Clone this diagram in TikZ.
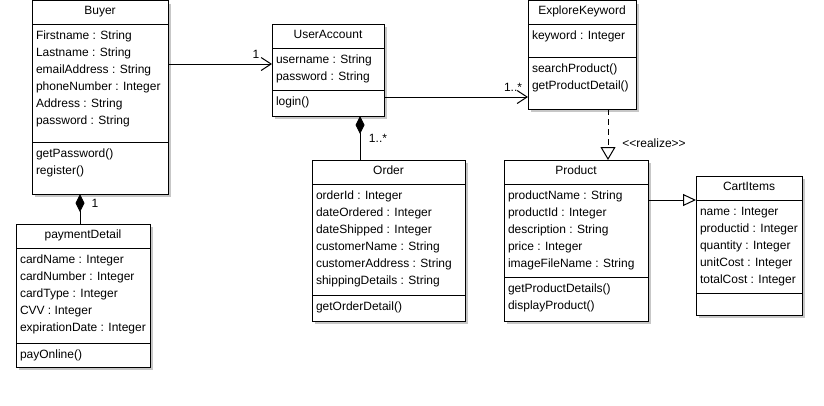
\documentclass[tikz,border=0pt]{standalone}
\usepackage{fontspec}
\setmainfont{Liberation Sans}
\usetikzlibrary{arrows.meta}

\tikzset{
  box/.style={draw=black, line width=1pt, fill=white, inner sep=0pt, outer sep=0pt},
  rule/.style={draw=black, line width=1pt},
  boxshadow/.style={draw=black!22, line width=2pt},
  umltext/.style={inner sep=0pt, outer sep=0pt, font=\fontsize{12pt}{14pt}\selectfont},
  title/.style={umltext, anchor=base},
  member/.style={umltext, anchor=base west},
  mult/.style={umltext, anchor=center},
  assoc/.style={line width=1pt, -{Straight Barb[length=10pt,width=13pt]}},
  compose/.style={line width=1pt, {Diamond[length=18pt,width=9pt]}-},
  realize/.style={line width=1pt, dash pattern=on 6pt off 4pt,
                  -{Triangle[open,length=13pt,width=15pt,fill=white]}},
  inherit/.style={line width=1pt, -{Triangle[open,length=13pt,width=12pt,fill=white]}},
}

% #1 name, #2 left, #3 top, #4 right, #5 bottom, #6 title rule, #7 member rule, #8 title
\newcommand\umlclass[8]{%
  \draw[boxshadow] (#4+1.5,#3+3) -- (#4+1.5,#5+1.5) -- (#2+3,#5+1.5);
  \node[box, anchor=north west, minimum width=#4-#2, minimum height=#5-#3] (#1) at (#2,#3) {};
  \draw[rule] (#2,#6) -- (#4,#6) (#2,#7) -- (#4,#7);
  \node[title] (#1-title) at ({(#2+#4)/2},#3+14) {#8};
}
% #1 name prefix, #2 class left edge, #3 compartment top, #4 list of entries
\newcommand\umlmembers[4]{%
  \foreach \txt [count=\i] in {#4}
    \node[member] (#1\i) at (#2+4,#3+15+17*\i-17) {\txt};
}

\begin{document}
\begin{tikzpicture}[x=1pt,y=-1pt]
\useasboundingbox (0,0) rectangle (824,405);

% Buyer
\umlclass{buyer}{32}{0.5}{168}{194}{24}{142}{Buyer}
\umlmembers{buyer-a}{32}{24}{Firstname : String, Lastname : String, emailAddress : String,
  phoneNumber : Integer, Address : String, password : String}
\umlmembers{buyer-m}{32}{142}{getPassword(), register()}

% UserAccount
\umlclass{account}{272}{24}{384}{116}{48}{90}{UserAccount}
\umlmembers{account-a}{272}{48}{username : String, password : String}
\umlmembers{account-m}{272}{90}{login()}

% ExploreKeyword
\umlclass{explore}{528}{0.5}{636}{109}{24}{57}{ExploreKeyword}
\umlmembers{explore-a}{528}{24}{keyword : Integer}
\umlmembers{explore-m}{528}{57}{searchProduct(), getProductDetail()}

% Order
\umlclass{order}{312}{160}{465}{321}{184}{295}{Order}
\umlmembers{order-a}{312}{184}{orderId : Integer, dateOrdered : Integer, dateShipped : Integer,
  customerName : String, customerAddress : String, shippingDetails : String}
\umlmembers{order-m}{312}{295}{getOrderDetail()}

% Product
\umlclass{product}{504}{160}{648}{321}{184}{277}{Product}
\umlmembers{product-a}{504}{184}{productName : String, productId : Integer, description : String,
  price : Integer, imageFileName : String}
\umlmembers{product-m}{504}{277}{getProductDetails(), displayProduct()}

% CartItems
\umlclass{cart}{696}{176}{802}{315}{200}{293}{CartItems}
\umlmembers{cart-a}{696}{200}{name : Integer, productid : Integer, quantity : Integer,
  unitCost : Integer, totalCost : Integer}

% paymentDetail
\umlclass{payment}{16}{224}{150}{367}{248}{343}{paymentDetail}
\umlmembers{payment-a}{16}{248}{cardName : Integer, cardNumber : Integer, cardType : Integer,
  CVV : Integer, expirationDate : Integer}
\umlmembers{payment-m}{16}{343}{payOnline()}

% connector levels
\coordinate (rowLogin)   at (0,64);
\coordinate (rowExplore) at (0,97);
\coordinate (rowCart)    at (0,200);
\coordinate (colPay)     at (80,0);
\coordinate (colOrder)   at (360,0);
\coordinate (colProduct) at (608,0);

% associations
\draw[assoc] (buyer.east |- rowLogin) -- (account.west |- rowLogin);
\node[mult] (multLogin) at (256,54) {1};
\draw[assoc] (account.east |- rowExplore) -- (explore.west |- rowExplore);
\node[mult] (multExplore) at (513,87) {1..*};

% compositions
\draw[compose] (account.south -| colOrder) -- (order.north -| colOrder);
\node[mult] (multOrder) at (378,138) {1..*};
\draw[compose] (buyer.south -| colPay) -- (payment.north -| colPay);
\node[mult] (multPay) at (95,203) {1};

% realization and generalization
\draw[realize] (explore.south -| colProduct) -- (product.north -| colProduct);
\node[mult] (realizeLabel) at (654,143) {<\kern0pt<realize>\kern0pt>};
\draw[inherit] (product.east |- rowCart) -- (cart.west |- rowCart);
\end{tikzpicture}
\end{document}
